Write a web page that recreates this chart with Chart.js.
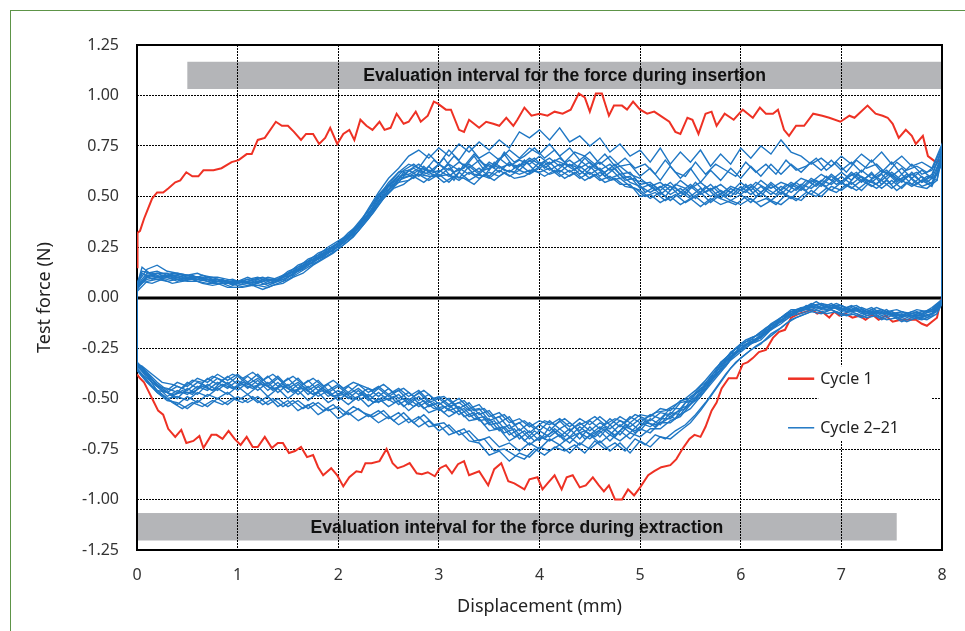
<!DOCTYPE html>
<html>
<head>
<meta charset="utf-8">
<title>Test force vs displacement</title>
<script src="https://cdn.jsdelivr.net/npm/chart.js@4.4.1/dist/chart.umd.min.js"></script>
<style>
html, body { margin: 0; padding: 0; background: #fff; }
#wrap { position: relative; width: 965px; height: 631px; overflow: hidden; }
#frame { position: absolute; left: 10px; top: 10px; width: 970px; height: 640px;
         border-left: 1px solid #5d9448; border-top: 1px solid #5d9448; }
#canvas { position: absolute; left: 0; top: 0; }
</style>
</head>
<body>
<div id="wrap">
	<div id="frame"></div>
	<canvas id="canvas" width="965" height="631"></canvas>
</div>
<script>
// displacement (mm) of the sampled points, insertion runs 0 -> 8, extraction 8 -> 0
var displacementUp = [0, 0, 0.1, 0.2, 0.3, 0.4, 0.5, 0.6, 0.7, 0.8, 0.9,
	1.0, 1.1, 1.2, 1.3, 1.4, 1.5, 1.6, 1.7, 1.8, 1.9,
	2.0, 2.1, 2.2, 2.3, 2.4, 2.5, 2.6, 2.7, 2.8, 2.9,
	3.0, 3.1, 3.2, 3.3, 3.4, 3.5, 3.6, 3.7, 3.8, 3.9,
	4.0, 4.1, 4.2, 4.3, 4.4, 4.5, 4.6, 4.7, 4.8, 4.9,
	5.0, 5.1, 5.2, 5.3, 5.4, 5.5, 5.6, 5.7, 5.8, 5.9,
	6.0, 6.1, 6.2, 6.3, 6.4, 6.5, 6.6, 6.7, 6.8, 6.9,
	7.0, 7.1, 7.2, 7.3, 7.4, 7.5, 7.6, 7.7, 7.8, 7.9,
	8.0];
var displacementDown = [8.0,
	7.9, 7.8, 7.7, 7.6, 7.5, 7.4, 7.3, 7.2, 7.1, 7.0,
	6.9, 6.8, 6.7, 6.6, 6.5, 6.4, 6.3, 6.2, 6.1, 6.0,
	5.9, 5.8, 5.7, 5.6, 5.5, 5.4, 5.3, 5.2, 5.1, 5.0,
	4.9, 4.8, 4.7, 4.6, 4.5, 4.4, 4.3, 4.2, 4.1, 4.0,
	3.9, 3.8, 3.7, 3.6, 3.5, 3.4, 3.3, 3.2, 3.1, 3.0,
	2.9, 2.8, 2.7, 2.6, 2.5, 2.4, 2.3, 2.2, 2.1, 2.0,
	1.9, 1.8, 1.7, 1.6, 1.5, 1.4, 1.3, 1.2, 1.1, 1.0,
	0.9, 0.8, 0.7, 0.6, 0.5, 0.4, 0.3, 0.2, 0.1, 0];
// later cycles sampled half a step apart
var displacementUpB = [0, 0, 0.05, 0.15, 0.25, 0.35, 0.45, 0.55, 0.65, 0.75, 0.85, 0.95,
	1.05, 1.15, 1.25, 1.35, 1.45, 1.55, 1.65, 1.75, 1.85, 1.95,
	2.05, 2.15, 2.25, 2.35, 2.45, 2.55, 2.65, 2.75, 2.85, 2.95,
	3.05, 3.15, 3.25, 3.35, 3.45, 3.55, 3.65, 3.75, 3.85, 3.95,
	4.05, 4.15, 4.25, 4.35, 4.45, 4.55, 4.65, 4.75, 4.85, 4.95,
	5.05, 5.15, 5.25, 5.35, 5.45, 5.55, 5.65, 5.75, 5.85, 5.95,
	6.05, 6.15, 6.25, 6.35, 6.45, 6.55, 6.65, 6.75, 6.85, 6.95,
	7.05, 7.15, 7.25, 7.35, 7.45, 7.55, 7.65, 7.75, 7.85, 7.95,
	8.0];
var displacementDownB = [8.0,
	7.95, 7.85, 7.75, 7.65, 7.55, 7.45, 7.35, 7.25, 7.15, 7.05,
	6.95, 6.85, 6.75, 6.65, 6.55, 6.45, 6.35, 6.25, 6.15, 6.05,
	5.95, 5.85, 5.75, 5.65, 5.55, 5.45, 5.35, 5.25, 5.15, 5.05,
	4.95, 4.85, 4.75, 4.65, 4.55, 4.45, 4.35, 4.25, 4.15, 4.05,
	3.95, 3.85, 3.75, 3.65, 3.55, 3.45, 3.35, 3.25, 3.15, 3.05,
	2.95, 2.85, 2.75, 2.65, 2.55, 2.45, 2.35, 2.25, 2.15, 2.05,
	1.95, 1.85, 1.75, 1.65, 1.55, 1.45, 1.35, 1.25, 1.15, 1.05,
	0.95, 0.85, 0.75, 0.65, 0.55, 0.45, 0.35, 0.25, 0.15, 0.05,
	0];

// cycles 2-21 (a representative set), force (N) during insertion
var ins1 = [-0.34, 0.04, 0.11, 0.10, 0.11, 0.09, 0.10, 0.10, 0.08, 0.09, 0.07,
	0.07, 0.08, 0.07, 0.09, 0.08, 0.12, 0.13, 0.18, 0.19, 0.24,
	0.25, 0.31, 0.34, 0.42, 0.47, 0.55, 0.57, 0.63, 0.60, 0.65,
	0.60, 0.64, 0.59, 0.65, 0.61, 0.66, 0.62, 0.67, 0.63, 0.68,
	0.64, 0.67, 0.62, 0.66, 0.61, 0.65, 0.60, 0.64, 0.59, 0.60,
	0.54, 0.56, 0.51, 0.55, 0.50, 0.55, 0.51, 0.54, 0.49, 0.54,
	0.51, 0.55, 0.50, 0.56, 0.51, 0.56, 0.53, 0.58, 0.55, 0.60,
	0.56, 0.61, 0.57, 0.62, 0.56, 0.61, 0.57, 0.62, 0.57, 0.60,
	0.74];
var ins2 = [-0.32, 0.06, 0.12, 0.13, 0.11, 0.12, 0.11, 0.12, 0.10, 0.10, 0.09,
	0.08, 0.10, 0.08, 0.10, 0.09, 0.13, 0.15, 0.19, 0.21, 0.25,
	0.28, 0.31, 0.37, 0.43, 0.51, 0.56, 0.62, 0.63, 0.66, 0.62,
	0.66, 0.63, 0.67, 0.64, 0.68, 0.63, 0.69, 0.65, 0.68, 0.66,
	0.70, 0.66, 0.69, 0.65, 0.68, 0.64, 0.67, 0.63, 0.65, 0.61,
	0.59, 0.55, 0.57, 0.53, 0.58, 0.54, 0.57, 0.53, 0.56, 0.52,
	0.57, 0.53, 0.58, 0.54, 0.57, 0.55, 0.59, 0.57, 0.61, 0.58,
	0.62, 0.58, 0.63, 0.59, 0.63, 0.60, 0.64, 0.59, 0.63, 0.59,
	0.70];
var ins3 = [-0.36, 0.03, 0.08, 0.09, 0.08, 0.09, 0.08, 0.08, 0.07, 0.07, 0.05,
	0.05, 0.06, 0.06, 0.05, 0.07, 0.09, 0.12, 0.15, 0.18, 0.21,
	0.24, 0.28, 0.33, 0.39, 0.46, 0.52, 0.57, 0.58, 0.61, 0.58,
	0.61, 0.57, 0.62, 0.58, 0.61, 0.59, 0.63, 0.60, 0.63, 0.61,
	0.64, 0.61, 0.63, 0.60, 0.63, 0.59, 0.62, 0.58, 0.59, 0.55,
	0.53, 0.49, 0.52, 0.48, 0.52, 0.49, 0.52, 0.47, 0.51, 0.48,
	0.51, 0.47, 0.52, 0.48, 0.52, 0.49, 0.54, 0.51, 0.56, 0.53,
	0.57, 0.54, 0.58, 0.55, 0.58, 0.54, 0.58, 0.55, 0.58, 0.55,
	0.68];
var ins4 = [-0.33, 0.07, 0.14, 0.16, 0.13, 0.12, 0.11, 0.10, 0.09, 0.09, 0.08,
	0.08, 0.09, 0.10, 0.08, 0.10, 0.12, 0.16, 0.18, 0.22, 0.24,
	0.27, 0.32, 0.36, 0.44, 0.52, 0.59, 0.64, 0.70, 0.73, 0.69,
	0.74, 0.70, 0.76, 0.72, 0.77, 0.73, 0.78, 0.74, 0.82, 0.79,
	0.83, 0.78, 0.84, 0.77, 0.80, 0.75, 0.79, 0.72, 0.76, 0.70,
	0.73, 0.67, 0.74, 0.66, 0.72, 0.67, 0.73, 0.65, 0.71, 0.66,
	0.74, 0.69, 0.75, 0.71, 0.78, 0.72, 0.70, 0.66, 0.69, 0.65,
	0.70, 0.66, 0.71, 0.67, 0.72, 0.66, 0.70, 0.65, 0.67, 0.64,
	0.76];
var ins5 = [-0.36, 0.05, 0.09, 0.10, 0.09, 0.10, 0.09, 0.09, 0.08, 0.07, 0.07,
	0.06, 0.07, 0.06, 0.07, 0.08, 0.10, 0.14, 0.16, 0.20, 0.22,
	0.26, 0.29, 0.35, 0.40, 0.48, 0.53, 0.58, 0.60, 0.61, 0.60,
	0.60, 0.61, 0.58, 0.62, 0.59, 0.62, 0.60, 0.63, 0.61, 0.63,
	0.62, 0.64, 0.60, 0.63, 0.59, 0.62, 0.58, 0.60, 0.56, 0.56,
	0.50, 0.51, 0.47, 0.50, 0.46, 0.49, 0.45, 0.49, 0.46, 0.48,
	0.46, 0.49, 0.45, 0.48, 0.46, 0.50, 0.48, 0.53, 0.50, 0.55,
	0.53, 0.57, 0.53, 0.58, 0.54, 0.58, 0.54, 0.59, 0.55, 0.57,
	0.66];
var ins6 = [-0.33, 0.06, 0.10, 0.12, 0.10, 0.11, 0.09, 0.10, 0.09, 0.08, 0.08,
	0.07, 0.08, 0.09, 0.07, 0.09, 0.11, 0.15, 0.17, 0.21, 0.23,
	0.27, 0.30, 0.36, 0.41, 0.50, 0.55, 0.60, 0.61, 0.64, 0.63,
	0.62, 0.66, 0.63, 0.66, 0.62, 0.67, 0.64, 0.66, 0.65, 0.69,
	0.66, 0.69, 0.65, 0.68, 0.64, 0.67, 0.63, 0.66, 0.61, 0.62,
	0.56, 0.57, 0.53, 0.57, 0.52, 0.56, 0.52, 0.56, 0.51, 0.55,
	0.53, 0.56, 0.52, 0.57, 0.53, 0.57, 0.54, 0.59, 0.56, 0.61,
	0.57, 0.62, 0.58, 0.61, 0.58, 0.62, 0.58, 0.61, 0.57, 0.61,
	0.73];
var ins7 = [-0.35, 0.04, 0.10, 0.09, 0.10, 0.08, 0.10, 0.08, 0.09, 0.07, 0.08,
	0.06, 0.07, 0.08, 0.06, 0.08, 0.10, 0.13, 0.16, 0.19, 0.22,
	0.25, 0.29, 0.34, 0.40, 0.47, 0.53, 0.59, 0.60, 0.63, 0.61,
	0.63, 0.60, 0.64, 0.61, 0.64, 0.60, 0.65, 0.62, 0.66, 0.62,
	0.67, 0.63, 0.66, 0.62, 0.65, 0.61, 0.64, 0.59, 0.61, 0.57,
	0.55, 0.52, 0.55, 0.51, 0.54, 0.50, 0.54, 0.50, 0.53, 0.50,
	0.55, 0.51, 0.55, 0.51, 0.55, 0.52, 0.56, 0.54, 0.58, 0.56,
	0.60, 0.56, 0.60, 0.57, 0.61, 0.56, 0.61, 0.56, 0.60, 0.56,
	0.71];
var ins8 = [-0.32, 0.05, 0.11, 0.12, 0.12, 0.10, 0.11, 0.09, 0.10, 0.08, 0.08,
	0.07, 0.09, 0.07, 0.09, 0.09, 0.12, 0.14, 0.18, 0.20, 0.24,
	0.27, 0.31, 0.36, 0.43, 0.50, 0.57, 0.62, 0.66, 0.64, 0.71,
	0.66, 0.73, 0.68, 0.75, 0.69, 0.72, 0.68, 0.73, 0.69, 0.74,
	0.71, 0.76, 0.70, 0.74, 0.68, 0.72, 0.66, 0.70, 0.65, 0.66,
	0.60, 0.64, 0.58, 0.65, 0.59, 0.64, 0.57, 0.63, 0.58, 0.64,
	0.59, 0.65, 0.60, 0.66, 0.61, 0.66, 0.62, 0.67, 0.63, 0.68,
	0.63, 0.67, 0.62, 0.68, 0.62, 0.67, 0.61, 0.66, 0.61, 0.63,
	0.75];
var ins9 = [-0.34, 0.05,
	0.12, 0.09, 0.11, 0.10, 0.08, 0.11, 0.09, 0.07, 0.09, 0.06,
	0.08, 0.06, 0.09, 0.07, 0.10, 0.11, 0.16, 0.17, 0.22, 0.23,
	0.29, 0.31, 0.39, 0.43, 0.52, 0.55, 0.62, 0.59, 0.65, 0.60,
	0.64, 0.58, 0.66, 0.61, 0.60, 0.67, 0.63, 0.62, 0.68, 0.63,
	0.67, 0.62, 0.66, 0.65, 0.61, 0.66, 0.60, 0.64, 0.58, 0.59,
	0.52, 0.55, 0.50, 0.56, 0.54, 0.49, 0.55, 0.50, 0.53, 0.51,
	0.56, 0.50, 0.54, 0.55, 0.51, 0.57, 0.53, 0.58, 0.55, 0.59,
	0.55, 0.61, 0.58, 0.56, 0.62, 0.57, 0.61, 0.56, 0.60, 0.58,
	0.72];
var ins10 = [-0.33, 0.07,
	0.13, 0.12, 0.10, 0.12, 0.11, 0.09, 0.11, 0.10, 0.08, 0.09,
	0.07, 0.09, 0.10, 0.08, 0.10, 0.13, 0.15, 0.19, 0.21, 0.25,
	0.28, 0.33, 0.38, 0.45, 0.53, 0.58, 0.63, 0.66, 0.62, 0.68,
	0.64, 0.70, 0.65, 0.71, 0.66, 0.64, 0.72, 0.67, 0.70, 0.74,
	0.69, 0.73, 0.67, 0.72, 0.70, 0.66, 0.71, 0.65, 0.69, 0.64,
	0.66, 0.61, 0.68, 0.62, 0.60, 0.67, 0.61, 0.66, 0.63, 0.60,
	0.67, 0.62, 0.66, 0.61, 0.68, 0.63, 0.65, 0.69, 0.63, 0.67,
	0.62, 0.68, 0.64, 0.66, 0.61, 0.67, 0.63, 0.65, 0.62, 0.66,
	0.74];
var ins11 = [-0.36, 0.04,
	0.08, 0.07, 0.09, 0.07, 0.08, 0.09, 0.07, 0.06, 0.07, 0.05,
	0.05, 0.06, 0.04, 0.06, 0.07, 0.10, 0.12, 0.16, 0.19, 0.22,
	0.26, 0.30, 0.36, 0.42, 0.49, 0.54, 0.56, 0.60, 0.57, 0.61,
	0.57, 0.60, 0.59, 0.56, 0.61, 0.58, 0.62, 0.59, 0.60, 0.63,
	0.60, 0.63, 0.59, 0.62, 0.58, 0.61, 0.57, 0.59, 0.55, 0.54,
	0.50, 0.52, 0.48, 0.51, 0.47, 0.50, 0.46, 0.50, 0.48, 0.46,
	0.50, 0.47, 0.49, 0.46, 0.51, 0.48, 0.52, 0.50, 0.54, 0.52,
	0.56, 0.53, 0.57, 0.54, 0.58, 0.53, 0.57, 0.55, 0.54, 0.58,
	0.69];
var ins12 = [-0.35, 0.06,
	0.15, 0.11, 0.10, 0.11, 0.09, 0.10, 0.10, 0.08, 0.08, 0.07,
	0.08, 0.07, 0.08, 0.09, 0.08, 0.12, 0.14, 0.18, 0.20, 0.24,
	0.27, 0.32, 0.37, 0.44, 0.50, 0.57, 0.61, 0.64, 0.61, 0.63,
	0.69, 0.62, 0.64, 0.70, 0.63, 0.65, 0.71, 0.64, 0.66, 0.69,
	0.64, 0.68, 0.66, 0.63, 0.69, 0.64, 0.62, 0.66, 0.60, 0.58,
	0.57, 0.53, 0.56, 0.54, 0.51, 0.57, 0.52, 0.55, 0.50, 0.54,
	0.52, 0.57, 0.54, 0.51, 0.56, 0.53, 0.58, 0.55, 0.60, 0.56,
	0.59, 0.62, 0.57, 0.60, 0.63, 0.58, 0.60, 0.62, 0.57, 0.61,
	0.73];

// cycles 2-21, force (N) during extraction
var ext1 = [-0.01,
	-0.06, -0.09, -0.08, -0.10, -0.07, -0.09, -0.06, -0.08, -0.05, -0.07,
	-0.04, -0.06, -0.04, -0.07, -0.07, -0.12, -0.14, -0.20, -0.21, -0.26,
	-0.28, -0.36, -0.40, -0.48, -0.51, -0.58, -0.57, -0.63, -0.60, -0.66,
	-0.62, -0.68, -0.63, -0.69, -0.64, -0.70, -0.65, -0.69, -0.64, -0.71,
	-0.66, -0.70, -0.63, -0.66, -0.60, -0.61, -0.55, -0.58, -0.53, -0.56,
	-0.51, -0.54, -0.50, -0.53, -0.48, -0.52, -0.48, -0.51, -0.47, -0.51,
	-0.46, -0.49, -0.44, -0.48, -0.43, -0.47, -0.42, -0.46, -0.42, -0.46,
	-0.42, -0.46, -0.43, -0.48, -0.45, -0.50, -0.47, -0.46, -0.39, -0.34];
var ext2 = [-0.02,
	-0.07, -0.07, -0.09, -0.07, -0.09, -0.06, -0.08, -0.06, -0.07, -0.04,
	-0.05, -0.03, -0.05, -0.05, -0.08, -0.10, -0.16, -0.18, -0.23, -0.24,
	-0.30, -0.33, -0.42, -0.45, -0.51, -0.52, -0.58, -0.57, -0.61, -0.60,
	-0.64, -0.61, -0.65, -0.62, -0.66, -0.62, -0.66, -0.61, -0.66, -0.63,
	-0.67, -0.62, -0.65, -0.59, -0.61, -0.55, -0.56, -0.52, -0.54, -0.50,
	-0.52, -0.47, -0.51, -0.46, -0.49, -0.45, -0.49, -0.45, -0.48, -0.44,
	-0.47, -0.43, -0.46, -0.42, -0.45, -0.40, -0.44, -0.40, -0.43, -0.39,
	-0.43, -0.40, -0.44, -0.42, -0.46, -0.44, -0.47, -0.43, -0.38, -0.32];
var ext3 = [-0.03,
	-0.08, -0.10, -0.09, -0.11, -0.08, -0.10, -0.07, -0.09, -0.07, -0.08,
	-0.06, -0.07, -0.06, -0.08, -0.09, -0.13, -0.16, -0.21, -0.23, -0.27,
	-0.31, -0.37, -0.43, -0.49, -0.55, -0.58, -0.62, -0.62, -0.67, -0.65,
	-0.70, -0.66, -0.71, -0.66, -0.70, -0.67, -0.72, -0.68, -0.71, -0.69,
	-0.73, -0.68, -0.71, -0.65, -0.66, -0.60, -0.61, -0.56, -0.59, -0.55,
	-0.57, -0.52, -0.56, -0.51, -0.54, -0.50, -0.54, -0.49, -0.53, -0.49,
	-0.52, -0.47, -0.51, -0.46, -0.50, -0.45, -0.49, -0.44, -0.48, -0.44,
	-0.48, -0.45, -0.49, -0.47, -0.51, -0.49, -0.50, -0.46, -0.42, -0.36];
var ext4 = [-0.01,
	-0.05, -0.08, -0.07, -0.09, -0.07, -0.08, -0.05, -0.07, -0.04, -0.06,
	-0.03, -0.05, -0.03, -0.06, -0.06, -0.10, -0.13, -0.18, -0.20, -0.24,
	-0.27, -0.34, -0.39, -0.46, -0.49, -0.55, -0.55, -0.60, -0.58, -0.62,
	-0.59, -0.64, -0.60, -0.65, -0.61, -0.66, -0.62, -0.65, -0.61, -0.66,
	-0.62, -0.66, -0.59, -0.62, -0.56, -0.58, -0.52, -0.55, -0.50, -0.53,
	-0.48, -0.51, -0.47, -0.50, -0.45, -0.49, -0.45, -0.48, -0.44, -0.48,
	-0.43, -0.46, -0.41, -0.45, -0.40, -0.44, -0.39, -0.43, -0.39, -0.43,
	-0.39, -0.43, -0.40, -0.45, -0.42, -0.47, -0.45, -0.44, -0.37, -0.33];
var ext5 = [-0.03,
	-0.09, -0.11, -0.10, -0.12, -0.09, -0.11, -0.08, -0.10, -0.08, -0.09,
	-0.06, -0.08, -0.07, -0.09, -0.11, -0.15, -0.18, -0.23, -0.26, -0.30,
	-0.35, -0.42, -0.49, -0.56, -0.62, -0.66, -0.70, -0.69, -0.74, -0.71,
	-0.77, -0.72, -0.76, -0.71, -0.75, -0.72, -0.77, -0.73, -0.76, -0.74,
	-0.79, -0.77, -0.81, -0.76, -0.78, -0.72, -0.71, -0.66, -0.68, -0.63,
	-0.64, -0.59, -0.62, -0.57, -0.60, -0.56, -0.59, -0.55, -0.58, -0.54,
	-0.56, -0.52, -0.55, -0.51, -0.54, -0.50, -0.53, -0.49, -0.52, -0.49,
	-0.53, -0.50, -0.54, -0.51, -0.55, -0.52, -0.51, -0.47, -0.42, -0.36];
var ext6 = [-0.02,
	-0.07, -0.08, -0.10, -0.08, -0.09, -0.07, -0.08, -0.06, -0.07, -0.05,
	-0.05, -0.04, -0.06, -0.06, -0.09, -0.11, -0.15, -0.19, -0.22, -0.25,
	-0.29, -0.34, -0.41, -0.46, -0.53, -0.55, -0.60, -0.60, -0.64, -0.62,
	-0.67, -0.63, -0.68, -0.64, -0.68, -0.64, -0.69, -0.65, -0.69, -0.66,
	-0.70, -0.65, -0.68, -0.62, -0.63, -0.57, -0.59, -0.54, -0.56, -0.52,
	-0.54, -0.49, -0.53, -0.48, -0.51, -0.47, -0.51, -0.46, -0.50, -0.46,
	-0.49, -0.44, -0.48, -0.43, -0.47, -0.42, -0.46, -0.41, -0.45, -0.41,
	-0.45, -0.42, -0.46, -0.44, -0.48, -0.46, -0.49, -0.44, -0.40, -0.33];
var ext7 = [-0.02,
	-0.08, -0.09, -0.09, -0.09, -0.08, -0.08, -0.07, -0.07, -0.06, -0.06,
	-0.05, -0.05, -0.05, -0.06, -0.08, -0.12, -0.15, -0.20, -0.22, -0.26,
	-0.30, -0.36, -0.42, -0.49, -0.53, -0.59, -0.61, -0.65, -0.65, -0.69,
	-0.67, -0.71, -0.68, -0.72, -0.68, -0.73, -0.69, -0.73, -0.70, -0.75,
	-0.72, -0.76, -0.72, -0.74, -0.69, -0.71, -0.66, -0.68, -0.63, -0.66,
	-0.61, -0.64, -0.60, -0.63, -0.59, -0.62, -0.58, -0.61, -0.57, -0.60,
	-0.55, -0.58, -0.53, -0.56, -0.51, -0.54, -0.49, -0.52, -0.48, -0.51,
	-0.47, -0.50, -0.48, -0.52, -0.49, -0.53, -0.50, -0.47, -0.41, -0.35];
var ext8 = [-0.01,
	-0.06, -0.07, -0.08, -0.07, -0.08, -0.06, -0.07, -0.05, -0.06, -0.04,
	-0.04, -0.03, -0.04, -0.05, -0.07, -0.10, -0.14, -0.17, -0.21, -0.23,
	-0.28, -0.32, -0.40, -0.44, -0.50, -0.51, -0.56, -0.55, -0.59, -0.58,
	-0.62, -0.59, -0.63, -0.59, -0.63, -0.60, -0.64, -0.60, -0.63, -0.61,
	-0.64, -0.60, -0.62, -0.57, -0.59, -0.53, -0.55, -0.50, -0.53, -0.49,
	-0.51, -0.46, -0.49, -0.45, -0.48, -0.44, -0.47, -0.43, -0.47, -0.43,
	-0.46, -0.41, -0.45, -0.40, -0.44, -0.39, -0.43, -0.38, -0.42, -0.38,
	-0.41, -0.38, -0.42, -0.40, -0.44, -0.42, -0.46, -0.42, -0.37, -0.32];
var ext9 = [-0.02,
	-0.06, -0.10, -0.07, -0.09, -0.10, -0.06, -0.08, -0.09, -0.05, -0.07,
	-0.04, -0.06, -0.05, -0.04, -0.08, -0.09, -0.14, -0.16, -0.22, -0.23,
	-0.28, -0.31, -0.39, -0.43, -0.51, -0.52, -0.60, -0.58, -0.64, -0.61,
	-0.67, -0.63, -0.69, -0.64, -0.67, -0.70, -0.64, -0.69, -0.65, -0.70,
	-0.66, -0.71, -0.65, -0.67, -0.61, -0.63, -0.57, -0.59, -0.53, -0.57,
	-0.52, -0.55, -0.50, -0.54, -0.49, -0.51, -0.52, -0.47, -0.51, -0.48,
	-0.49, -0.45, -0.48, -0.44, -0.47, -0.43, -0.46, -0.42, -0.45, -0.43,
	-0.45, -0.41, -0.46, -0.43, -0.48, -0.46, -0.49, -0.45, -0.41, -0.36,
	-0.34];
var ext10 = [-0.01,
	-0.05, -0.07, -0.06, -0.08, -0.06, -0.07, -0.05, -0.07, -0.04, -0.05,
	-0.03, -0.05, -0.02, -0.05, -0.06, -0.08, -0.12, -0.15, -0.19, -0.21,
	-0.25, -0.30, -0.35, -0.41, -0.46, -0.50, -0.53, -0.56, -0.57, -0.60,
	-0.58, -0.62, -0.60, -0.63, -0.59, -0.62, -0.64, -0.60, -0.63, -0.61,
	-0.65, -0.61, -0.63, -0.58, -0.60, -0.55, -0.56, -0.51, -0.53, -0.49,
	-0.50, -0.46, -0.49, -0.45, -0.47, -0.43, -0.46, -0.44, -0.42, -0.45,
	-0.41, -0.44, -0.40, -0.43, -0.39, -0.42, -0.38, -0.41, -0.37, -0.40,
	-0.38, -0.41, -0.39, -0.42, -0.41, -0.45, -0.43, -0.42, -0.38, -0.34,
	-0.33];
var ext11 = [-0.03,
	-0.08, -0.11, -0.10, -0.12, -0.10, -0.11, -0.09, -0.10, -0.08, -0.09,
	-0.07, -0.08, -0.06, -0.08, -0.10, -0.13, -0.17, -0.21, -0.24, -0.28,
	-0.32, -0.38, -0.45, -0.52, -0.58, -0.63, -0.66, -0.70, -0.68, -0.73,
	-0.70, -0.76, -0.72, -0.75, -0.71, -0.77, -0.73, -0.76, -0.74, -0.78,
	-0.75, -0.80, -0.78, -0.75, -0.76, -0.70, -0.71, -0.65, -0.67, -0.62,
	-0.63, -0.58, -0.62, -0.57, -0.61, -0.56, -0.59, -0.57, -0.54, -0.58,
	-0.53, -0.56, -0.52, -0.55, -0.51, -0.54, -0.50, -0.53, -0.49, -0.52,
	-0.50, -0.53, -0.51, -0.54, -0.52, -0.55, -0.52, -0.48, -0.44, -0.38,
	-0.36];
var ext12 = [-0.02,
	-0.07, -0.09, -0.10, -0.08, -0.09, -0.08, -0.07, -0.08, -0.06, -0.07,
	-0.05, -0.06, -0.04, -0.06, -0.07, -0.11, -0.13, -0.18, -0.21, -0.25,
	-0.27, -0.34, -0.38, -0.45, -0.50, -0.55, -0.57, -0.61, -0.63, -0.62,
	-0.66, -0.64, -0.68, -0.65, -0.69, -0.66, -0.68, -0.71, -0.66, -0.69,
	-0.71, -0.66, -0.69, -0.64, -0.65, -0.59, -0.60, -0.55, -0.57, -0.54,
	-0.55, -0.51, -0.54, -0.50, -0.52, -0.49, -0.52, -0.48, -0.50, -0.47,
	-0.49, -0.46, -0.48, -0.45, -0.46, -0.44, -0.45, -0.43, -0.44, -0.42,
	-0.45, -0.43, -0.46, -0.44, -0.47, -0.47, -0.48, -0.46, -0.42, -0.35,
	-0.34];

// cycle 1
var redInX = [0, 0.005, 0.03, 0.07, 0.11, 0.15, 0.2, 0.26, 0.31, 0.38, 0.43, 0.49, 0.55, 0.61, 0.66, 0.76, 0.84, 0.94, 1.01, 1.09, 1.14, 1.2, 1.27,
	1.38, 1.44, 1.5, 1.56, 1.63, 1.68, 1.75, 1.81, 1.87, 1.92, 1.99, 2.05, 2.11, 2.16, 2.22, 2.28, 2.34, 2.41, 2.46, 2.52,
	2.58, 2.65, 2.7, 2.77, 2.82, 2.89, 2.95, 2.99, 3.07, 3.12, 3.2, 3.25, 3.3, 3.4, 3.47, 3.54, 3.6, 3.67, 3.74, 3.78,
	3.85, 3.92, 4.0, 4.08, 4.15, 4.23, 4.31, 4.39, 4.45, 4.5, 4.56, 4.62, 4.69, 4.74, 4.82, 4.87, 4.93, 5.0, 5.07, 5.14,
	5.2, 5.29, 5.35, 5.4, 5.47, 5.52, 5.58, 5.65, 5.71, 5.76, 5.84, 5.93, 6.02, 6.07, 6.12, 6.19, 6.25, 6.32, 6.37, 6.43,
	6.48, 6.55, 6.63, 6.72, 6.81, 6.88, 6.99, 7.08, 7.13, 7.26, 7.34, 7.41, 7.46, 7.51, 7.57, 7.64, 7.7, 7.74, 7.81, 7.86,
	7.94, 7.97, 8.0];
var redInY = [0.15, 0.32, 0.33, 0.39, 0.44, 0.49, 0.52, 0.52, 0.54, 0.57, 0.58, 0.62, 0.60, 0.60, 0.63, 0.63, 0.64, 0.67, 0.68, 0.71, 0.71, 0.78, 0.79,
	0.87, 0.85, 0.85, 0.82, 0.78, 0.81, 0.81, 0.76, 0.79, 0.84, 0.76, 0.81, 0.83, 0.78, 0.88, 0.85, 0.83, 0.87, 0.83, 0.84,
	0.91, 0.86, 0.87, 0.92, 0.87, 0.90, 0.97, 0.96, 0.93, 0.93, 0.83, 0.82, 0.88, 0.84, 0.87, 0.86, 0.85, 0.89, 0.85, 0.88,
	0.94, 0.90, 0.91, 0.90, 0.92, 0.91, 0.93, 1.01, 0.99, 0.92, 1.01, 1.01, 0.90, 0.95, 0.95, 0.93, 0.97, 0.93, 0.91, 0.92,
	0.90, 0.87, 0.82, 0.81, 0.89, 0.88, 0.81, 0.91, 0.92, 0.85, 0.91, 0.88, 0.93, 0.91, 0.89, 0.94, 0.91, 0.91, 0.93, 0.83,
	0.80, 0.85, 0.85, 0.91, 0.90, 0.89, 0.87, 0.90, 0.89, 0.95, 0.91, 0.90, 0.89, 0.86, 0.79, 0.83, 0.80, 0.76, 0.80, 0.70,
	0.67, 0.68, 0.66];
var redOutX = [8.0, 7.98, 7.95, 7.9, 7.85, 7.8, 7.74, 7.67, 7.59, 7.51, 7.44, 7.37, 7.31, 7.24, 7.18, 7.11, 7.04, 6.98, 6.93, 6.88,
	6.81, 6.76, 6.71, 6.65, 6.58, 6.5, 6.44, 6.38, 6.32, 6.25, 6.18, 6.12, 6.07, 6.02, 5.96, 5.88, 5.81, 5.76, 5.71, 5.65,
	5.6, 5.54, 5.49, 5.42, 5.36, 5.3, 5.21, 5.14, 5.08, 5.0, 4.94, 4.88, 4.82, 4.75, 4.69, 4.64, 4.59, 4.53, 4.46, 4.4,
	4.33, 4.27, 4.22, 4.15, 4.08, 4.03, 3.98, 3.9, 3.85, 3.75, 3.69, 3.62, 3.55, 3.49, 3.4, 3.3, 3.25, 3.19, 3.13, 3.07,
	3.01, 2.96, 2.89, 2.83, 2.78, 2.71, 2.65, 2.59, 2.54, 2.48, 2.41, 2.33, 2.27, 2.23, 2.18, 2.11, 2.05, 1.99, 1.93, 1.85,
	1.8, 1.75, 1.69, 1.63, 1.57, 1.51, 1.45, 1.4, 1.34, 1.27, 1.2, 1.15, 1.09, 1.03, 0.97, 0.91, 0.85, 0.79, 0.74, 0.66,
	0.62, 0.56, 0.49, 0.44, 0.38, 0.31, 0.26, 0.21, 0.16, 0.11, 0.07, 0.03, 0];
var redOutY = [0.0, -0.03, -0.10, -0.12, -0.14, -0.13, -0.11, -0.11, -0.11, -0.12, -0.09, -0.11, -0.085, -0.11, -0.09, -0.10, -0.08, -0.09, -0.07, -0.10,
	-0.07, -0.08, -0.06, -0.07, -0.08, -0.10, -0.16, -0.17, -0.20, -0.26, -0.27, -0.30, -0.32, -0.33, -0.40, -0.40, -0.45, -0.52, -0.56, -0.64,
	-0.69, -0.68, -0.70, -0.75, -0.80, -0.83, -0.84, -0.86, -0.88, -0.94, -0.98, -0.95, -1.00, -1.00, -0.93, -0.96, -0.93, -0.89, -0.93, -0.94,
	-0.88, -0.89, -0.95, -0.88, -0.92, -0.95, -0.89, -0.90, -0.95, -0.92, -0.91, -0.82, -0.85, -0.93, -0.86, -0.88, -0.81, -0.825, -0.87, -0.83,
	-0.845, -0.885, -0.865, -0.875, -0.87, -0.82, -0.835, -0.845, -0.82, -0.75, -0.81, -0.82, -0.82, -0.865, -0.86, -0.89, -0.935, -0.88, -0.845, -0.88,
	-0.84, -0.78, -0.79, -0.74, -0.76, -0.77, -0.72, -0.72, -0.745, -0.69, -0.74, -0.74, -0.69, -0.73, -0.70, -0.66, -0.70, -0.68, -0.68, -0.745,
	-0.685, -0.71, -0.72, -0.655, -0.69, -0.65, -0.58, -0.56, -0.51, -0.46, -0.42, -0.40, -0.38];

var xTicks = [0, 1, 2, 3, 4, 5, 6, 7, 8];
var yTicks = [-1.25, -1.00, -0.75, -0.50, -0.25, 0.00, 0.25, 0.50, 0.75, 1.00, 1.25];

var insCycles = [ins1, ins2, ins3, ins4, ins5, ins6, ins7, ins8];
var extCycles = [ext1, ext2, ext3, ext4, ext5, ext6, ext7, ext8];
var insCyclesB = [ins9, ins10, ins11, ins12];
var extCyclesB = [ext9, ext10, ext11, ext12];

// grey evaluation intervals (in axis units)
var bands = [
	{ from: 0.5, to: 8.0, top: 1.167, bottom: 1.032, label: 'Evaluation interval for the force during insertion' },
	{ from: 0.0, to: 7.55, top: -1.067, bottom: -1.203, label: 'Evaluation interval for the force during extraction' }
];

var RED = '#ee3124';
var BLUE = '#1f77c4';

function toPoints(xs, ys){
	var r = [];
	for(var i = 0; i < xs.length; i++){
		r.push({ x: xs[i], y: ys[i] });
	}
	return r;
}

function blueLoop(up, ins, down, ext){
	return {
		label: 'Cycle 2–21',
		data: toPoints(up, ins).concat(toPoints(down, ext)),
		borderColor: BLUE,
		borderWidth: 1.4,
		showLine: true,
		pointRadius: 0,
		tension: 0
	};
}

var datasets = [];
for(var c = 0; c < insCycles.length; c++){
	datasets.push(blueLoop(displacementUp, insCycles[c], displacementDown, extCycles[c]));
}
for(var c = 0; c < insCyclesB.length; c++){
	datasets.push(blueLoop(displacementUpB, insCyclesB[c], displacementDownB, extCyclesB[c]));
}
datasets.push({
	label: 'Cycle 1',
	data: toPoints(redInX, redInY).concat(toPoints(redOutX, redOutY)),
	borderColor: RED,
	borderWidth: 2,
	showLine: true,
	pointRadius: 0,
	tension: 0
});

var decor = {
	id: 'decor',
	beforeDraw: function(chart){
		var ctx = chart.ctx, sx = chart.scales.x, sy = chart.scales.y;
		ctx.save();
		ctx.fillStyle = '#fff';
		ctx.fillRect(chart.chartArea.left, chart.chartArea.top, chart.chartArea.width, chart.chartArea.height);
		for(var i = 0; i < bands.length; i++){
			var b = bands[i];
			var x0 = sx.getPixelForValue(b.from), x1 = sx.getPixelForValue(b.to);
			var y0 = sy.getPixelForValue(b.top), y1 = sy.getPixelForValue(b.bottom);
			ctx.fillStyle = '#b4b5b8';
			ctx.fillRect(x0, y0, x1 - x0, y1 - y0);
			ctx.fillStyle = '#111';
			ctx.font = 'bold 17.6px "Liberation Sans", Arial, sans-serif';
			ctx.textAlign = 'center';
			ctx.textBaseline = 'middle';
			ctx.fillText(b.label, (x0 + x1) / 2, (y0 + y1) / 2 + 1);
		}
		ctx.restore();
	},
	beforeDatasetsDraw: function(chart){
		var ctx = chart.ctx, a = chart.chartArea, sy = chart.scales.y;
		ctx.save();
		// zero line
		var y0 = Math.round(sy.getPixelForValue(0));
		ctx.strokeStyle = '#000';
		ctx.lineWidth = 3;
		ctx.beginPath();
		ctx.moveTo(a.left, y0);
		ctx.lineTo(a.right, y0);
		ctx.stroke();
		// plot frame
		ctx.lineWidth = 2;
		ctx.strokeRect(a.left, a.top, a.right - a.left, a.bottom - a.top);
		ctx.restore();
	},
	afterDraw: function(chart){
		var ctx = chart.ctx, sx = chart.scales.x, sy = chart.scales.y;
		ctx.save();
		// legend box
		var bx0 = sx.getPixelForValue(6.77), bx1 = sx.getPixelForValue(7.9);
		var by0 = sy.getPixelForValue(-0.34), by1 = sy.getPixelForValue(-0.71);
		ctx.fillStyle = '#fff';
		ctx.fillRect(bx0, by0, bx1 - bx0, by1 - by0);
		var items = [
			{ text: 'Cycle 1', color: RED, width: 2.5, y: -0.402 },
			{ text: 'Cycle 2–21', color: BLUE, width: 1.5, y: -0.645 }
		];
		ctx.font = '16px "Noto Sans", sans-serif';
		ctx.textBaseline = 'middle';
		ctx.textAlign = 'left';
		for(var i = 0; i < items.length; i++){
			var it = items[i];
			var py = sy.getPixelForValue(it.y);
			ctx.strokeStyle = it.color;
			ctx.lineWidth = it.width;
			ctx.beginPath();
			ctx.moveTo(sx.getPixelForValue(6.47), py);
			ctx.lineTo(sx.getPixelForValue(6.73), py);
			ctx.stroke();
			ctx.fillStyle = '#222';
			ctx.fillText(it.text, sx.getPixelForValue(6.79), py + 1);
		}
		ctx.restore();
	}
};

Chart.defaults.font.family = '"Noto Sans", sans-serif';

var ctx = document.getElementById('canvas').getContext('2d');
window.forceChart = new Chart(ctx, {
	type: 'scatter',
	data: { datasets: datasets },
	plugins: [decor],
	options: {
		responsive: false,
		animation: false,
		events: [],
		layout: { padding: { left: 0, right: 23, top: 45, bottom: 0 } },
		plugins: {
			legend: { display: false },
			tooltip: { enabled: false }
		},
		scales: {
			x: {
				type: 'linear',
				min: 0,
				max: 8,
				afterBuildTicks: function(scale){
					scale.ticks = xTicks.map(function(v){ return { value: v }; });
				},
				afterFit: function(scale){ scale.height = 81; },
				ticks: {
					color: '#333',
					font: { size: 16 },
					padding: 16,
					callback: function(v){ return String(v); }
				},
				grid: { color: '#000', lineWidth: 1, drawTicks: false },
				border: { display: false, dash: [2, 1] },
				title: {
					display: true,
					text: 'Displacement (mm)',
					color: '#222',
					font: { size: 18 },
					padding: { top: 0, bottom: 13 }
				}
			},
			y: {
				type: 'linear',
				min: -1.25,
				max: 1.25,
				afterBuildTicks: function(scale){
					scale.ticks = yTicks.map(function(v){ return { value: v }; });
				},
				afterFit: function(scale){ scale.width = 137; },
				ticks: {
					color: '#333',
					font: { size: 16 },
					padding: 18,
					callback: function(v){ return Number(v).toFixed(2); }
				},
				grid: { color: '#000', lineWidth: 1, drawTicks: false },
				border: { display: false, dash: [2, 1] },
				title: {
					display: true,
					text: 'Test force (N)',
					color: '#222',
					font: { size: 18 },
					padding: { top: 34, bottom: 0 }
				}
			}
		}
	}
});
</script>
</body>
</html>
